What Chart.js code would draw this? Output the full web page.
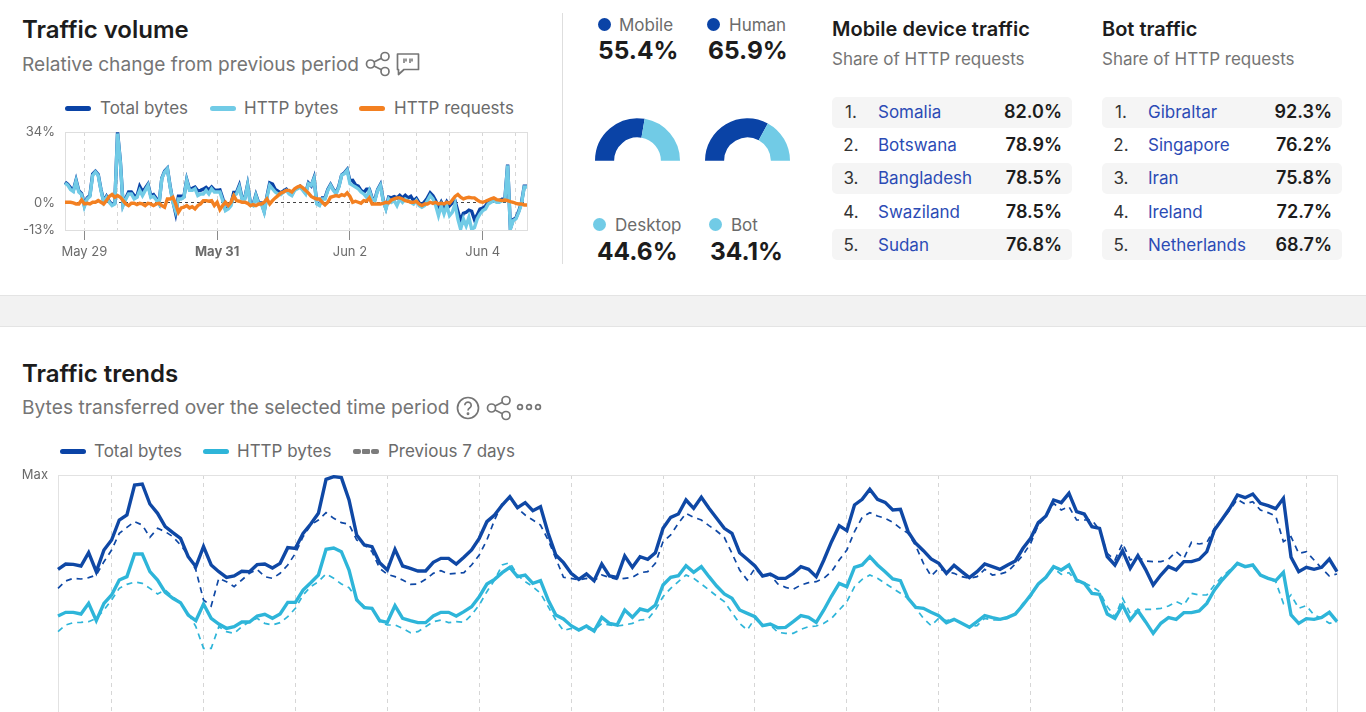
<!DOCTYPE html>
<html lang="en">
<head>
<meta charset="utf-8">
<title>Traffic overview</title>
<script src="https://cdn.jsdelivr.net/npm/chart.js@4"></script>
<style>
  html, body { margin: 0; padding: 0; background: #fff; width: 1366px; height: 712px; overflow: hidden; }
  body { font-family: Inter, "Noto Sans", sans-serif; color: #6f6f6f; position: relative; }
  .abs { position: absolute; white-space: nowrap; line-height: 1; }
  .title { font-size: 24px; font-weight: 600; color: #1c1c1c; }
  .sub { font-size: 19.1px; font-weight: 400; color: #757575; }
  .head { font-size: 20px; font-weight: 600; color: #1c1c1c; }
  .note { font-size: 17px; color: #757575; }
  .leg { font-size: 17px; color: #6b6b6b; }
  .swatch { position: absolute; height: 5px; width: 26px; border-radius: 3px; }
  .big { font-size: 24.5px; font-weight: 700; color: #1c1c1c; }
  .dot { position: absolute; width: 13px; height: 13px; border-radius: 50%; }
  .band { position: absolute; left: 0; width: 1366px; top: 295px; height: 30px; background: #f2f2f2;
          border-top: 1px solid #e4e4e4; border-bottom: 1px solid #e4e4e4; }
  .divider { position: absolute; left: 562px; top: 13px; width: 1px; height: 251px; background: #dedede; }
  .row { position: absolute; width: 240px; height: 31px; border-radius: 5px; }
  .row.shade { background: #f5f5f5; }
  .row span { position: absolute; top: 50%; transform: translateY(-50%); font-size: 17px; line-height: 1; white-space: nowrap; }
  .rank { color: #333; width: 36px; text-align: center; left: 1px; }
  .name { color: #2b4bb5; left: 46px; }
  .row span.share { color: #1c1c1c; font-weight: 600; right: 10px; font-size: 18px; }
  canvas { position: absolute; display: block; }
  svg { position: absolute; fill: none; stroke: #757575; stroke-width: 1.7; }
</style>
</head>
<body>
  <div class="abs title" style="left:22px;top:18px">Traffic volume</div>
  <div class="abs sub" style="left:22px;top:55px">Relative change from previous period</div>
  <svg style="left:365px;top:51px" width="26" height="26" viewBox="0 0 26 26">
    <circle cx="5.5" cy="13" r="4"/><circle cx="20" cy="5.5" r="4"/><circle cx="20" cy="20.5" r="4"/>
    <path d="M9 11 L16.5 7.2 M9 15 L16.5 18.8"/>
  </svg>
  <svg style="left:396px;top:52px" width="24" height="24" viewBox="0 0 24 24">
    <path d="M1.5 2 H22.5 V17.5 H8 L2.5 22.5 V17.5 H1.5 Z" stroke-linejoin="round"/>
    <path d="M8 6.5 v4.5 M10 6.5 v3 M14 6.5 v4.5 M16 6.5 v3" stroke-width="1.5"/>
  </svg>

  <div class="swatch" style="left:65px;top:106px;background:#0a43a6"></div>
  <div class="abs leg" style="left:100px;top:100px">Total bytes</div>
  <div class="swatch" style="left:210px;top:106px;background:#71cbe6"></div>
  <div class="abs leg" style="left:244px;top:100px">HTTP bytes</div>
  <div class="swatch" style="left:359px;top:106px;background:#f38021"></div>
  <div class="abs leg" style="left:394px;top:100px">HTTP requests</div>

  <canvas id="volumeChart" style="left:0;top:120px" width="540" height="150"></canvas>

  <div class="divider"></div>

  <div class="dot" style="left:598px;top:18px;background:#0a43a6"></div>
  <div class="abs leg" style="left:619px;top:17px">Mobile</div>
  <div class="abs big" style="left:598px;top:38px">55.4%</div>
  <div class="dot" style="left:707px;top:18px;background:#0a43a6"></div>
  <div class="abs leg" style="left:729px;top:17px">Human</div>
  <div class="abs big" style="left:708px;top:38px">65.9%</div>

  <canvas id="deviceChart" style="left:595px;top:118px" width="85" height="43"></canvas>
  <canvas id="botChart" style="left:705px;top:118px" width="85" height="43"></canvas>

  <div class="dot" style="left:593px;top:218px;background:#71cbe6"></div>
  <div class="abs leg" style="left:615px;top:217px">Desktop</div>
  <div class="abs big" style="left:597px;top:239px">44.6%</div>
  <div class="dot" style="left:709px;top:218px;background:#71cbe6"></div>
  <div class="abs leg" style="left:731px;top:217px">Bot</div>
  <div class="abs big" style="left:710px;top:239px">34.1%</div>

  <div class="abs head" style="left:832px;top:19px">Mobile device traffic</div>
  <div class="abs note" style="left:832px;top:51px">Share of HTTP requests</div>
  <div class="abs head" style="left:1102px;top:19px">Bot traffic</div>
  <div class="abs note" style="left:1102px;top:51px">Share of HTTP requests</div>
  <div id="mobileTable"></div>
  <div id="botTable"></div>

  <div class="band"></div>

  <div class="abs title" style="left:22px;top:362px">Traffic trends</div>
  <div class="abs sub" style="left:22px;top:398px;font-size:19.2px">Bytes transferred over the selected time period</div>
  <svg style="left:456px;top:396px" width="24" height="24" viewBox="0 0 24 24">
    <circle cx="12" cy="12" r="10.5"/>
    <path d="M8.8 9.3 a3.2 3.2 0 1 1 4.8 2.8 c-1 .6-1.6 1.2-1.6 2.4"/>
    <circle cx="12" cy="17.8" r=".6" fill="#757575"/>
  </svg>
  <svg style="left:486px;top:395px" width="26" height="26" viewBox="0 0 26 26">
    <circle cx="5.5" cy="13" r="4"/><circle cx="20" cy="5.5" r="4"/><circle cx="20" cy="20.5" r="4"/>
    <path d="M9 11 L16.5 7.2 M9 15 L16.5 18.8"/>
  </svg>
  <svg style="left:516px;top:402px" width="26" height="10" viewBox="0 0 26 10">
    <circle cx="4" cy="5" r="2.4"/><circle cx="13" cy="5" r="2.4"/><circle cx="22" cy="5" r="2.4"/>
  </svg>

  <div class="swatch" style="left:60px;top:449px;background:#0a43a6"></div>
  <div class="abs leg" style="left:94px;top:443px">Total bytes</div>
  <div class="swatch" style="left:203px;top:449px;background:#2eb5d9"></div>
  <div class="abs leg" style="left:237px;top:443px">HTTP bytes</div>
  <div class="swatch" style="left:353px;top:449px;width:8px;background:#7c7c7c;border-radius:2px"></div>
  <div class="swatch" style="left:362px;top:449px;width:8px;background:#7c7c7c;border-radius:1px"></div>
  <div class="swatch" style="left:371px;top:449px;width:8px;background:#7c7c7c;border-radius:2px"></div>
  <div class="abs leg" style="left:388px;top:443px">Previous 7 days</div>

  <canvas id="trendChart" style="left:0;top:465px" width="1366" height="335"></canvas>

<script>
// Relative change from the previous period, hourly, in percent
const relTotal = [
  10.0,9.0,7.2,6.0,11.0,5.8,4.5,-1.2,2.4,3.6,
  13.8,15.2,13.6,6.4,0.8,3.2,0.8,-0.8,0,33.8,
  20.0,-0.8,2.4,5.2,5.2,3.5,3.2,8.0,5.5,7.0,
  9.0,3.5,4.0,2.2,-0.2,11.9,15.2,16.6,8.0,0.8,
  -5.0,3.2,3.2,3.2,11.2,6.6,7.0,7.6,5.8,6.0,
  6.6,7.4,6.2,7.6,6.2,6.0,6.2,2.2,-3.2,-2.4,
  -0.6,5.0,5.0,8.4,2.4,2.4,8.8,0,-0.8,3.9,
  0,0,-4.0,3.2,9.6,9.0,6.4,5.6,4.8,5.8,
  6.6,5.0,4.0,6.4,7.2,8.0,6.4,4.8,9.6,8.2,
  12,0,-0.8,2.4,2.4,6.4,8.8,6.4,4.8,8.0,
  13.4,14.4,16.0,10.6,10.8,8.6,8.0,6.0,5.0,6.6,
  6.6,2.4,1.6,6.4,8.8,1.6,-2.4,2.8,2.4,3.0,
  2.4,3.6,2.4,3.6,2.4,3.2,1.0,2.2,0,-1.0,
  0.6,2.4,4.8,3.4,1.0,-2.2,0.4,-2.2,0.6,-1.4,
  0,0.8,-4.0,-8.5,-5.0,-4.5,-3.5,-4.0,-8.0,-5.8,
  -3.0,-2.5,-1.5,0.4,1.0,1.6,1.0,1.0,1.8,1.8,
  18.4,-12.2,-8.0,-7.2,-4.0,0,8.0,8.0
];
const relHttp = [
  9.5,8.5,6.4,5.5,10.5,5.2,4.0,-1.8,1.9,3.1,
  13.2,14.8,13.2,6.0,0.3,2.7,0.3,-1.3,-0.5,33.3,
  19.6,-1.3,1.9,4.3,4.3,1.9,2.7,6.0,3.5,6.0,
  8.4,2.7,3.1,1.4,-0.5,11.6,14.8,16.4,7.6,0.3,
  -4.0,1.9,1.9,2.7,10.8,6.0,6.0,6.8,3.5,4.3,
  4.3,6.0,4.3,6.8,5.2,5.2,5.2,1.1,-3.7,-2.9,
  -1.3,3.5,4.3,7.6,1.9,1.9,8.4,-0.5,-1.3,3.5,
  -0.5,-0.5,-4.5,2.7,8.4,6.8,5.2,4.3,4.0,5.2,
  6.0,4.3,3.5,6.0,6.8,7.6,6.0,4.3,9.2,8.4,
  11.6,-0.5,-1.3,1.9,1.9,6.0,8.4,6.0,4.3,7.6,
  13.2,14.0,15.6,9.2,8.4,7.6,6.8,5.2,4.3,2.7,
  6.0,1.9,1.1,6.0,8.4,1.1,-2.9,1.9,0.3,1.1,
  -1.3,1.9,0.3,1.9,1.1,0.3,-0.5,1.1,-1.3,-2.1,
  -1.3,1.1,3.5,1.9,-1.3,-6.1,-1.3,-5.3,-1.3,-6.1,
  -4.5,-0.5,-7.7,-12.6,-7.7,-11,-6.9,-12.6,-11.8,-7.7,
  -5.3,-3.7,-2.9,-0.5,0.3,1.1,0.3,0.3,1.1,1.1,
  18.0,-12.6,-8.5,-7.7,-4.5,-0.5,7.6,7.6
];
const relRequests = [
  .3,.3,.3,0,-.5,-.5,1.4,-.5,-.2,-.5,
  .3,.3,1.1,.3,-.5,1.1,3.1,4.0,2.7,3.5,
  2.7,1.1,-.5,-1.3,-.2,-.2,-.8,-.2,-.5,-1.3,
  -.2,-.5,-1.3,-.5,-.2,-1.3,-2.1,1.9,1.9,2.7,
  -.5,-4.5,-2.4,-2.1,-1.3,-2.4,-1.8,-2.9,-1.3,-.5,
  1.1,1.1,.8,1.1,-1.3,.3,-3.2,-1.3,.3,-1.3,
  .3,3.5,1.1,.8,.3,.3,-.2,-1.3,-.8,-1.3,
  -.5,-.5,.3,1.9,-.5,1.1,2.4,3.5,4.7,5.2,
  6.0,6.0,5.2,6.8,7.6,8.1,7.2,6.0,4.7,3.1,
  2.4,1.9,1.9,.3,-1.0,.3,2.7,3.1,3.5,3.1,
  4.0,3.5,4.8,3.1,.3,.8,.3,-.2,1.1,.8,
  2.4,-.5,-.5,-.5,-.5,-.2,.3,0,1.4,1.9,
  2.4,2.4,1.9,1.1,.8,.3,.3,.8,-.5,-1.3,
  -.5,-.5,.3,-.2,.3,-.5,-.2,-.5,.3,-.2,
  1.4,3.1,4.0,2.7,1.9,2.4,2.7,2.4,2.4,1.4,
  .6,.3,.8,1.4,1.9,2.4,1.6,1.4,1.1,1.4,
  1.1,.6,.3,-.2,-.5,-.5,-1.0,-1.0
];
const volumeTickValues = [-13, 0, 34];
const dateTickHours = [7, 55, 103, 151];
const dateTickLabels = ['May 29', 'May 31', 'Jun 2', 'Jun 4'];
const boldDateLabel = 'May 31';
const halfDayHours = [7,19,31,43,55,67,79,91,103,115,127,139,151,163];

// Splits shown on the half doughnuts
const deviceLabels = ['Mobile', 'Desktop'];
const deviceShares = [55.4, 44.6];
const botLabels = ['Human', 'Bot'];
const botShares = [65.9, 34.1];

// Country rankings
const mobileCountries = ['Somalia', 'Botswana', 'Bangladesh', 'Swaziland', 'Sudan'];
const mobilePercents = ['82.0%', '78.9%', '78.5%', '78.5%', '76.8%'];
const botCountries = ['Gibraltar', 'Singapore', 'Iran', 'Ireland', 'Netherlands'];
const botPercents = ['92.3%', '76.2%', '75.8%', '72.7%', '68.7%'];

// Bytes transferred, hourly, on a 0-900 scale where 900 is the period maximum
const trendMaxValue = 900;
const trendTotal = [
  617,633,632,627,667,610,675,705,765,780,
  870,873,813,785,745,727,710,655,625,685,
  630,610,593,597,611,610,631,633,621,635,
  682,680,725,753,785,887,895,892,825,720,
  690,685,637,615,677,627,620,612,612,638,
  650,650,633,653,675,710,760,780,810,835,
  802,817,793,805,725,660,637,605,587,603,
  583,633,597,593,657,623,655,647,667,740,
  773,783,825,800,833,800,770,740,725,667,
  647,627,597,603,590,590,605,625,617,595,
  645,700,748,733,810,827,857,827,818,795,
  797,730,695,673,648,635,605,629,610,592,
  610,633,625,617,630,642,680,710,757,777,
  825,817,845,790,783,745,740,655,630,673,
  620,658,617,570,600,625,615,640,640,647,
  670,735,767,800,840,832,843,815,808,799,
  830,653,610,623,617,623,648,610
];
const trendHttp = [
  477,488,488,483,515,463,515,540,585,595,
  663,663,610,585,548,530,517,480,463,513,
  470,453,440,445,459,459,477,482,470,483,
  518,518,555,577,600,677,681,670,615,525,
  502,500,463,458,508,470,463,457,457,477,
  488,488,477,490,505,535,573,587,607,623,
  595,600,575,583,525,480,468,448,435,447,
  432,473,455,450,495,473,498,492,510,570,
  593,598,628,608,625,595,567,543,530,495,
  485,475,448,453,442,443,460,478,473,458,
  495,537,575,565,623,630,655,630,610,588,
  583,530,503,500,488,478,457,467,455,443,
  460,478,472,467,473,483,510,540,573,593,
  625,615,630,585,575,545,542,483,470,510,
  465,493,460,425,455,472,467,487,487,492,
  515,555,585,610,635,625,630,600,590,583,
  608,480,455,469,467,473,488,460
];
const prevTotal = [
  560,582,590,588,592,600,640,675,725,743,
  760,750,713,740,730,715,690,660,615,525,
  507,590,580,565,585,605,617,595,590,605,
  630,665,715,750,765,787,770,757,752,705,
  690,670,620,602,595,585,572,573,587,605,
  613,603,605,607,630,660,705,765,815,830,
  800,780,765,750,705,650,593,590,585,590,
  583,600,593,587,590,593,607,610,635,700,
  720,755,785,773,765,748,732,713,665,615,
  585,620,597,600,573,563,557,570,577,580,
  590,610,645,675,730,773,787,777,770,758,
  740,725,687,635,597,620,610,605,595,590,
  595,617,600,603,610,633,660,695,750,775,
  815,795,805,765,765,765,735,665,645,695,
  645,653,642,640,640,647,670,650,698,693,
  697,740,765,795,827,813,820,795,787,777,
  700,715,665,670,645,620,597,603
];
const prevHttp = [
  430,450,457,458,460,470,495,525,560,572,
  579,575,560,543,555,535,515,485,445,380,
  380,445,430,425,445,460,470,455,450,457,
  475,500,540,565,580,603,590,573,562,530,
  505,500,460,450,450,440,427,430,445,460,
  465,457,460,458,480,510,550,585,630,637,
  600,580,565,545,505,465,433,440,435,440,
  433,455,450,447,450,455,465,467,495,535,
  560,580,600,590,573,555,537,520,487,455,
  435,470,448,450,428,425,425,437,445,447,
  455,470,495,520,565,587,600,590,575,560,
  545,530,500,470,448,470,463,467,455,445,
  448,470,465,465,470,485,515,535,573,593,
  620,602,607,580,577,565,550,505,475,530,
  485,495,497,497,500,507,520,510,545,540,
  540,570,595,615,635,627,625,600,590,580,
  515,540,500,508,480,470,455,460
];

const FONT = 'Inter, "Noto Sans", sans-serif';
const DARK_BLUE = '#0a43a6', SOFT_BLUE = '#71cbe6', ORANGE = '#f38021';
const TREND_BLUE = '#0f48a5', TREND_CYAN = '#2eb5d9';

Chart.defaults.animation = false;
Chart.defaults.responsive = false;
Chart.defaults.font.family = FONT;
Chart.defaults.plugins.legend.display = false;
Chart.defaults.plugins.tooltip.enabled = false;

// Thin outline around the plot area
const plotFrame = {
  id: 'plotFrame',
  beforeDatasetsDraw(chart, args, opts) {
    const { ctx, chartArea: a } = chart;
    ctx.save();
    ctx.strokeStyle = opts.color;
    ctx.lineWidth = 1;
    ctx.strokeRect(a.left + .5, a.top + .5, a.right - a.left, a.bottom - a.top);
    ctx.restore();
  }
};

const hourAxis = (length) => Array.from({ length }, (_, hour) => hour);
const lineStyle = (color, width, order, extra) => Object.assign({
  borderColor: color, borderWidth: width, pointRadius: 0, tension: 0,
  borderJoinStyle: 'miter', order
}, extra);

// Fixes the value axis gutter and keeps its labels from reserving space above the plot
const fitValueAxis = (width) => (scale) => {
  scale.width = width;
  scale.paddingTop = 0;
  scale.paddingBottom = 0;
};

new Chart(document.getElementById('volumeChart'), {
  type: 'line',
  plugins: [plotFrame],
  data: {
    labels: hourAxis(relHttp.length),
    datasets: [
      lineStyle(DARK_BLUE, 3.4, 3, { label: 'Total bytes', data: relTotal }),
      lineStyle(SOFT_BLUE, 3.4, 2, { label: 'HTTP bytes', data: relHttp }),
      lineStyle(ORANGE, 3.4, 1, { label: 'HTTP requests', data: relRequests })
    ]
  },
  options: {
    layout: { padding: { top: 12, right: 13, left: 0, bottom: 0 } },
    plugins: { plotFrame: { color: '#dedede' } },
    scales: {
      x: {
        type: 'category',
        afterFit: s => { s.height = 40; },
        afterBuildTicks: s => { s.ticks = halfDayHours.map(value => ({ value })); },
        border: { display: false, dash: [4, 4] },
        grid: {
          color: '#d6d6d6',
          tickColor: c => dateTickHours.includes(c.tick.value) ? '#8a8a8a' : 'transparent',
          tickLength: 10
        },
        ticks: {
          autoSkip: false, maxRotation: 0, padding: 4, color: '#6b6b6b',
          callback: value => {
            const at = dateTickHours.indexOf(value);
            return at < 0 ? '' : dateTickLabels[at];
          },
          font: c => ({
            size: 13, family: FONT,
            weight: dateTickLabels[dateTickHours.indexOf(c.tick.value)] === boldDateLabel ? '700' : '400'
          })
        }
      },
      y: {
        min: -13, max: 34,
        afterFit: fitValueAxis(65),
        afterBuildTicks: s => { s.ticks = volumeTickValues.map(value => ({ value })); },
        border: { display: false, dash: [3, 3] },
        grid: {
          drawTicks: false,
          color: c => c.tick.value === 0 ? '#444' : 'transparent'
        },
        ticks: { padding: 10, color: '#6b6b6b', font: { size: 13 }, callback: v => v + '%' }
      }
    }
  }
});

function halfDoughnut(id, labels, data) {
  new Chart(document.getElementById(id), {
    type: 'doughnut',
    data: {
      labels,
      datasets: [{ data, backgroundColor: [DARK_BLUE, SOFT_BLUE], borderWidth: 0 }]
    },
    options: { rotation: -90, circumference: 180, cutout: '55%', layout: { padding: 0 } }
  });
}
halfDoughnut('deviceChart', deviceLabels, deviceShares);
halfDoughnut('botChart', botLabels, botShares);

// Ranked country lists
function rankingRows(hostId, left, names, percents) {
  const host = document.getElementById(hostId);
  names.forEach((name, i) => {
    const row = document.createElement('div');
    row.className = 'row' + (i % 2 === 0 ? ' shade' : '');
    row.style.left = left + 'px';
    row.style.top = (96.5 + i * 33.2) + 'px';
    row.innerHTML = '<span class="rank">' + (i + 1) + '.</span><span class="name">' + name +
      '</span><span class="share">' + percents[i] + '</span>';
    host.appendChild(row);
  });
}
rankingRows('mobileTable', 832, mobileCountries, mobilePercents);
rankingRows('botTable', 1102, botCountries, botPercents);

new Chart(document.getElementById('trendChart'), {
  type: 'line',
  plugins: [plotFrame],
  data: {
    labels: hourAxis(trendTotal.length),
    datasets: [
      lineStyle(TREND_BLUE, 3.4, 1, { label: 'Total bytes', data: trendTotal }),
      lineStyle(TREND_CYAN, 3.4, 2, { label: 'HTTP bytes', data: trendHttp }),
      lineStyle(TREND_BLUE, 1.7, 3, { label: 'Previous 7 days, total', data: prevTotal, borderDash: [6, 5] }),
      lineStyle(TREND_CYAN, 1.7, 4, { label: 'Previous 7 days, HTTP', data: prevHttp, borderDash: [6, 5] })
    ]
  },
  options: {
    layout: { padding: { top: 10, right: 29, left: 0, bottom: 0 } },
    plugins: { plotFrame: { color: '#e2e2e2' } },
    scales: {
      x: {
        type: 'category',
        afterFit: s => { s.height = 25; },
        afterBuildTicks: s => { s.ticks = halfDayHours.map(value => ({ value })); },
        border: { display: false, dash: [4, 4] },
        grid: { color: '#d6d6d6', drawTicks: false },
        ticks: { display: false }
      },
      y: {
        min: 0, max: trendMaxValue,
        afterFit: fitValueAxis(58),
        afterBuildTicks: s => { s.ticks = [{ value: trendMaxValue }]; },
        border: { display: false },
        grid: { display: false, drawTicks: false },
        ticks: { padding: 10, color: '#6b6b6b', font: { size: 13 }, callback: () => 'Max' }
      }
    }
  }
});
</script>
</body>
</html>
